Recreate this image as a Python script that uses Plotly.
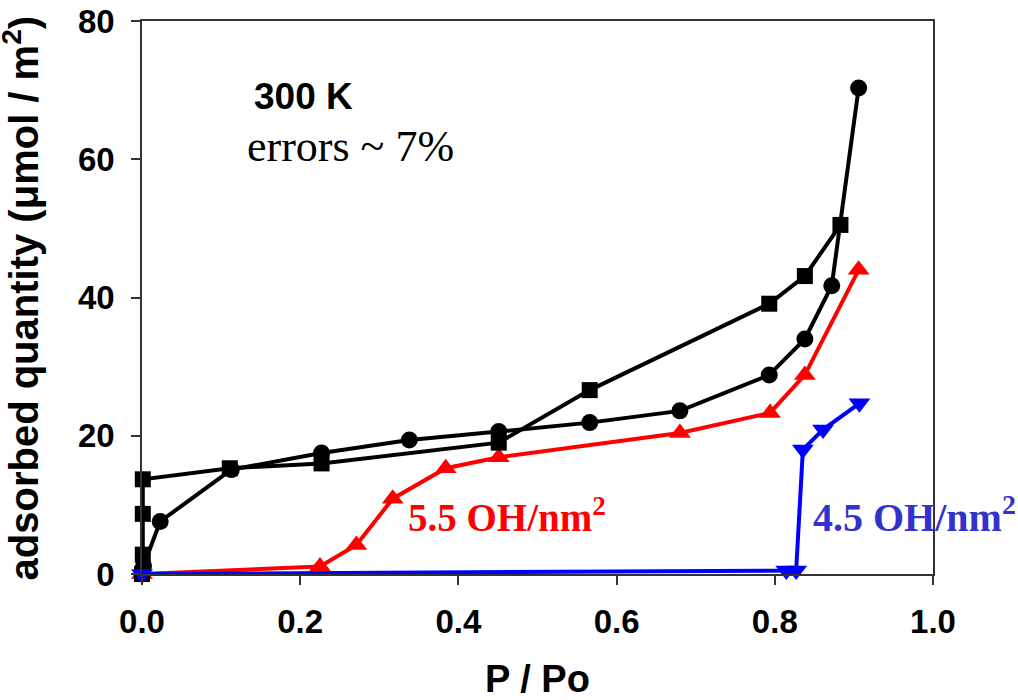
import plotly.graph_objects as go

# --- data ---
circle_x = [0.0, 0.002, 0.023, 0.113, 0.227, 0.338, 0.451, 0.566, 0.680, 0.793, 0.838, 0.872, 0.906]
circle_y = [0.0, 1.2, 7.6, 15.1, 17.5, 19.4, 20.6, 21.9, 23.6, 28.8, 34.0, 41.7, 70.3]

square_x = [0.0, 0.001, 0.001, 0.001, 0.111, 0.227, 0.451, 0.566, 0.793, 0.838, 0.883]
square_y = [0.0, 2.8, 8.7, 13.7, 15.3, 16.0, 19.0, 26.6, 39.1, 43.1, 50.5]

red_x = [0.0, 0.225, 0.271, 0.317, 0.384, 0.451, 0.680, 0.794, 0.838, 0.906]
red_y = [0.0, 1.1, 4.2, 10.9, 15.3, 16.9, 20.4, 23.3, 28.8, 44.0]

blue_x = [0.0, 0.8145, 0.827, 0.8355, 0.861, 0.907]
blue_y = [0.0, 0.5, 0.5, 18.0, 20.9, 24.7]

x_ticks = [0.0, 0.2, 0.4, 0.6, 0.8, 1.0]
x_labels = ["0.0", "0.2", "0.4", "0.6", "0.8", "1.0"]
y_ticks = [0, 20, 40, 60, 80]
y_labels = ["0", "20", "40", "60", "80"]

x_title = "<b>P / Po</b>"
y_title = "<b>adsorbed quantity (μmol / m<sup>2</sup>)</b>"

SANS = "Liberation Sans"
SERIF = "Liberation Serif"

fig = go.Figure()

fig.add_trace(go.Scatter(x=red_x, y=red_y, mode="lines+markers",
                         line=dict(color="#FF0000", width=4),
                         marker=dict(symbol="triangle-up", size=19, color="#FF0000"),
                         cliponaxis=False, showlegend=False))
fig.add_trace(go.Scatter(x=circle_x, y=circle_y, mode="lines+markers",
                         line=dict(color="#000000", width=4),
                         marker=dict(symbol="circle", size=17, color="#000000"),
                         cliponaxis=False, showlegend=False))
fig.add_trace(go.Scatter(x=square_x, y=square_y, mode="lines+markers",
                         line=dict(color="#000000", width=4),
                         marker=dict(symbol="square", size=16, color="#000000"),
                         cliponaxis=False, showlegend=False))
fig.add_trace(go.Scatter(x=blue_x, y=blue_y, mode="lines+markers",
                         line=dict(color="#0000FF", width=4),
                         marker=dict(symbol="triangle-down", size=19, color="#0000FF"),
                         cliponaxis=False, showlegend=False))

fig.update_layout(
    width=1018, height=700,
    margin=dict(l=142, r=85, t=21, b=126, autoexpand=False),
    plot_bgcolor="white", paper_bgcolor="white",
    font=dict(family=SANS, color="black"),
    xaxis=dict(range=[0, 1.0], tickmode="array", tickvals=x_ticks,
               ticktext=["<b>%s</b>" % s for s in x_labels],
               showgrid=False, zeroline=False, automargin=False,
               showline=True, linecolor="#333333", linewidth=1.5, mirror=True,
               ticks="outside", ticklen=9, tickcolor="#333333", tickwidth=1.5,
               tickfont=dict(family=SANS, size=33, color="black"),
               ticklabelstandoff=9),
    yaxis=dict(range=[0, 80], tickmode="array", tickvals=y_ticks,
               ticktext=["<b>%s</b>" % s for s in y_labels],
               showgrid=False, zeroline=False, automargin=False,
               showline=True, linecolor="#333333", linewidth=1.5, mirror=True,
               ticks="outside", ticklen=9, tickcolor="#333333", tickwidth=1.5,
               tickfont=dict(family=SANS, size=33, color="black"),
               ticklabelstandoff=10),
    annotations=[
        # axis titles
        dict(x=0.5, y=-0.190, xref="paper", yref="paper", text=x_title, showarrow=False,
             xanchor="center", yanchor="middle", font=dict(family=SANS, size=38, color="black")),
        dict(x=-0.153, y=0.5, xref="paper", yref="paper", text=y_title, showarrow=False,
             textangle=-90, xanchor="center", yanchor="middle",
             font=dict(family=SANS, size=40, color="black")),
        # in-plot labels
        dict(x=0.139, y=69.1, xref="x", yref="y", text="<b>300 K</b>", showarrow=False,
             xanchor="left", yanchor="middle", font=dict(family=SANS, size=37, color="black")),
        dict(x=0.130, y=61.8, xref="x", yref="y", text="errors ~ 7%", showarrow=False,
             xanchor="left", yanchor="middle", font=dict(family=SERIF, size=44, color="black")),
        dict(x=0.334, y=8.6, xref="x", yref="y", text="<b>5.5 OH/nm<sup>2</sup></b>", showarrow=False,
             xanchor="left", yanchor="middle", font=dict(family=SERIF, size=39, color="#FF0000")),
        dict(x=0.8457, y=8.6, xref="x", yref="y", text="<b>4.5 OH/nm<sup>2</sup></b>", showarrow=False,
             xanchor="left", yanchor="middle", font=dict(family=SERIF, size=40, color="#3333CC")),
    ],
)

fig.write_html("out.html")
